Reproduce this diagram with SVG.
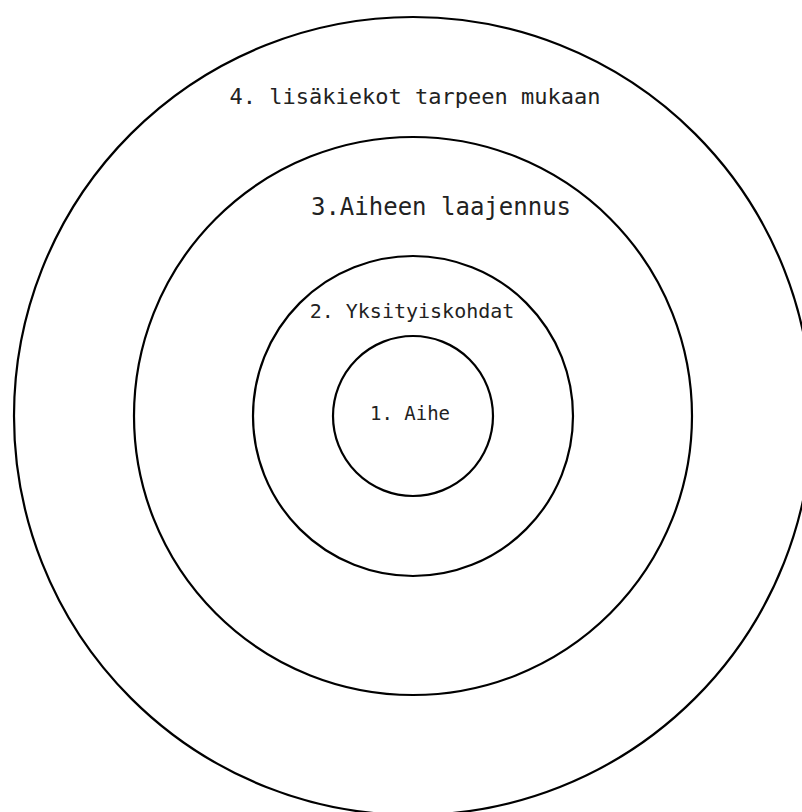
<svg xmlns="http://www.w3.org/2000/svg" width="802" height="812" viewBox="0 0 802 812">
<style>
.ring{fill:none;stroke:#000;stroke-width:2.2}
.lbl{font-family:"DejaVu Sans Mono","Liberation Mono",monospace;fill:#222;text-anchor:middle}
</style>
<rect width="802" height="812" fill="#fff"/>
<g id="ring4"><circle class="ring" cx="413" cy="416" r="399"/><text class="lbl" x="415" y="104" font-size="22">4. lisäkiekot tarpeen mukaan</text></g>
<g id="ring3"><circle class="ring" cx="413" cy="416" r="279"/><text class="lbl" x="441" y="215" font-size="24">3.Aiheen laajennus</text></g>
<g id="ring2"><circle class="ring" cx="413" cy="416" r="160"/><text class="lbl" x="412" y="318" font-size="20">2. Yksityiskohdat</text></g>
<g id="ring1"><circle class="ring" cx="413" cy="416" r="80"/><text class="lbl" x="410" y="420" font-size="19">1. Aihe</text></g>
<g id="connectors"/>
</svg>
